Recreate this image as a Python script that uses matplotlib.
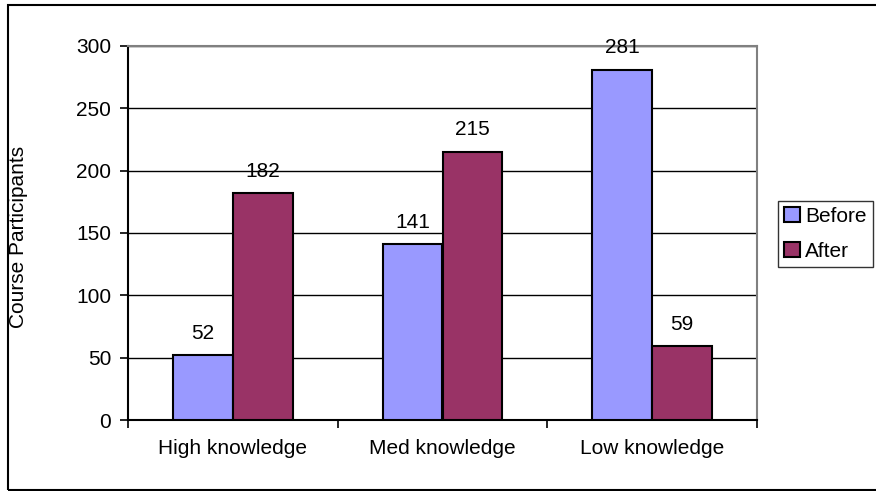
import numpy as np
import matplotlib.pyplot as plt
from matplotlib.patches import Rectangle

plt.rcParams['font.family'] = ['Liberation Sans', 'DejaVu Sans']

categories = ["High knowledge", "Med knowledge", "Low knowledge"]
before = [52, 141, 281]
after = [182, 215, 59]
yticks = [0, 50, 100, 150, 200, 250, 300]

fig = plt.figure(figsize=(8.76, 4.91), dpi=100)
ax = fig.add_axes([128 / 876, 1 - 420 / 491, (757 - 128) / 876, (420 - 46) / 491])

# outer chart frame (right edge runs off the canvas)
fig.patches.append(Rectangle((8 / 876, 1 - 490 / 491), (900 - 8) / 876, (490 - 5) / 491,
                             transform=fig.transFigure, fill=False,
                             edgecolor='black', linewidth=1.5))

x = np.arange(len(categories))
w = 1 / 3.5
b1 = ax.bar(x - w / 2, before, w, color='#9999FF', edgecolor='black', linewidth=1.5,
            label='Before', zorder=3)
b2 = ax.bar(x + w / 2, after, w, color='#993366', edgecolor='black', linewidth=1.5,
            label='After', zorder=3)

for bars, vals in ((b1, before), (b2, after)):
    for rect, v in zip(bars, vals):
        ax.annotate(str(v), (rect.get_x() + rect.get_width() / 2, v),
                    xytext=(0, 9), textcoords='offset points',
                    ha='center', va='bottom', fontsize=15)

ax.set_xlim(-0.5, 2.5)
ax.set_ylim(0, 300)
ax.set_yticks(yticks)
ax.yaxis.grid(True, color='black', linewidth=1.0, zorder=0)
ax.set_axisbelow(True)

# category labels centred, ticks at the boundaries
ax.set_xticks(x)
ax.set_xticklabels(categories, fontsize=15)
ax.set_xticks([-0.5, 0.5, 1.5, 2.5], minor=True)
ax.tick_params(axis='x', which='major', length=0, pad=14)
ax.tick_params(axis='x', which='minor', length=6, width=1.2, direction='out')
ax.tick_params(axis='y', length=6, width=1.2, direction='out', labelsize=15, pad=6)

for side in ('top', 'right'):
    ax.spines[side].set_color('#808080')
    ax.spines[side].set_linewidth(1.5)
for side in ('left', 'bottom'):
    ax.spines[side].set_color('black')
    ax.spines[side].set_linewidth(1.5)

ax.set_ylabel('Course Participants', fontsize=15)
ax.yaxis.set_label_coords((28 - 128) / 629, 0.49)

leg = fig.legend(handles=[b1, b2], labels=['Before', 'After'],
                 loc='lower left', bbox_to_anchor=(778 / 876, 1 - 267 / 491),
                 fontsize=15, frameon=True, fancybox=False, borderpad=0.3,
                 handlelength=0.75, handleheight=0.75, handletextpad=0.25,
                 labelspacing=0.75, borderaxespad=0)
leg.get_frame().set_edgecolor('black')
leg.get_frame().set_linewidth(1.0)

fig.savefig('out.png', dpi=100)
